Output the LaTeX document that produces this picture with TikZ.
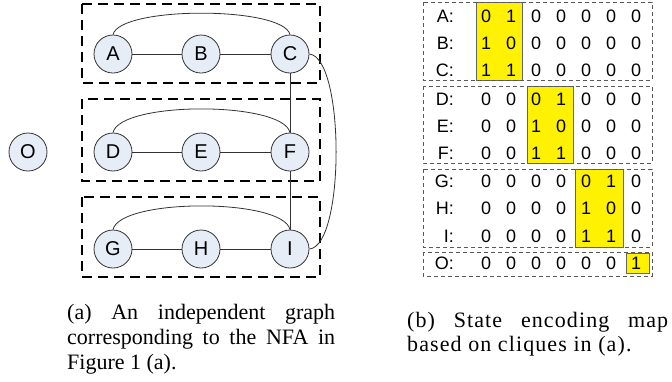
\documentclass[tikz,border=0pt]{standalone}
\usepackage{fontspec}
\setmainfont{Liberation Sans}
\newfontfamily\capfont{Liberation Serif}
\newfontfamily\capfontb[LetterSpace=5]{Liberation Serif}
\definecolor{nodefill}{RGB}{231,237,247}
\definecolor{edgegray}{RGB}{50,50,50}
\begin{document}
\begin{tikzpicture}[x=1pt,y=-1pt,
  state/.style={circle, draw=edgegray, fill=nodefill, minimum size=38pt, inner sep=0pt,
    font=\fontsize{20}{24}\selectfont, line width=0.8pt},
  edge/.style={draw=edgegray, line width=0.8pt},
  clique/.style={draw=black, line width=2pt, dash pattern=on 10pt off 6pt},
  grp/.style={draw=black!65, line width=0.8pt, dash pattern=on 4pt off 3pt},
  hl/.style={fill=yellow, draw=black!60, line width=0.8pt},
  dig/.style={font=\fontsize{18}{20}\selectfont, inner sep=0pt, anchor=center},
  lab/.style={font=\fontsize{18}{20}\selectfont, inner sep=0pt, anchor=east},
  capt/.style={anchor=north west, inner sep=0pt, align=justify}]
\useasboundingbox (0,0) rectangle (672,381);

% clique boxes (left)
\draw[clique] (82,4) rectangle (320,83);
\draw[clique] (82,99) rectangle (320,181);
\draw[clique] (82,197) rectangle (320,277);

% nodes
\node[state] (A) at (113,54) {A};
\node[state] (B) at (201,54) {B};
\node[state] (C) at (290,54) {C};
\node[state] (D) at (113,152) {D};
\node[state] (E) at (201,152) {E};
\node[state] (F) at (290,152) {F};
\node[state] (G) at (113,249) {G};
\node[state] (H) at (201,249) {H};
\node[state] (I) at (290,249) {I};
\node[state] (O) at (28,152) {O};

% edges
\draw[edge] (A) -- (B);
\draw[edge] (B) -- (C);
\draw[edge] (D) -- (E);
\draw[edge] (E) -- (F);
\draw[edge] (G) -- (H);
\draw[edge] (H) -- (I);
\draw[edge] (C) -- (F);
\draw[edge] (F) -- (I);
\draw[edge] (A.north) .. controls (120,6) and (283,6) .. (C.north);
\draw[edge] (D.north) .. controls (120,101) and (283,101) .. (F.north);
\draw[edge] (G.north) .. controls (120,198) and (283,198) .. (I.north);
\draw[edge] (C.east) .. controls (345,58) and (345,246) .. (I.east);

% highlight boxes (right)
\draw[hl] (476,2) rectangle (522,80);
\draw[hl] (527,86) rectangle (573,163);
\draw[hl] (575,169) rectangle (623,247);
\draw[hl] (626,253) rectangle (649,273);

% group boxes (right)
\draw[grp] (423,2) rectangle (652,80);
\draw[grp] (423,86) rectangle (652,163);
\draw[grp] (423,169) rectangle (652,247);
\draw[grp] (423,252) rectangle (652,276);

% matrix
\foreach \r/\y/\bits in {A/16/{0,1,0,0,0,0,0}, B/43/{1,0,0,0,0,0,0}, C/70/{1,1,0,0,0,0,0},
  D/99/{0,0,0,1,0,0,0}, E/126/{0,0,1,0,0,0,0}, F/153/{0,0,1,1,0,0,0},
  G/181/{0,0,0,0,0,1,0}, H/208/{0,0,0,0,1,0,0}, I/236/{0,0,0,0,1,1,0},
  O/263/{0,0,0,0,0,0,1}}{
  \node[lab] (l\r) at (454,\y) {\r:};
  \foreach \b [count=\i] in \bits {
    \node[dig] (m\r\i) at ({461+25*\i},\y) {\b};
  }
}

% captions
\node[capt, text width=268pt, font=\capfont\fontsize{22}{25}\selectfont] (capa) at (67,304)
  {(a) An independent graph\linebreak corresponding to the NFA in\linebreak Figure 1 (a).};
\node[capt, text width=261pt, font=\capfontb\fontsize{22}{24}\selectfont] (capb) at (407,312)
  {(b) State encoding map\linebreak based on cliques in (a).};
\end{tikzpicture}
\end{document}
